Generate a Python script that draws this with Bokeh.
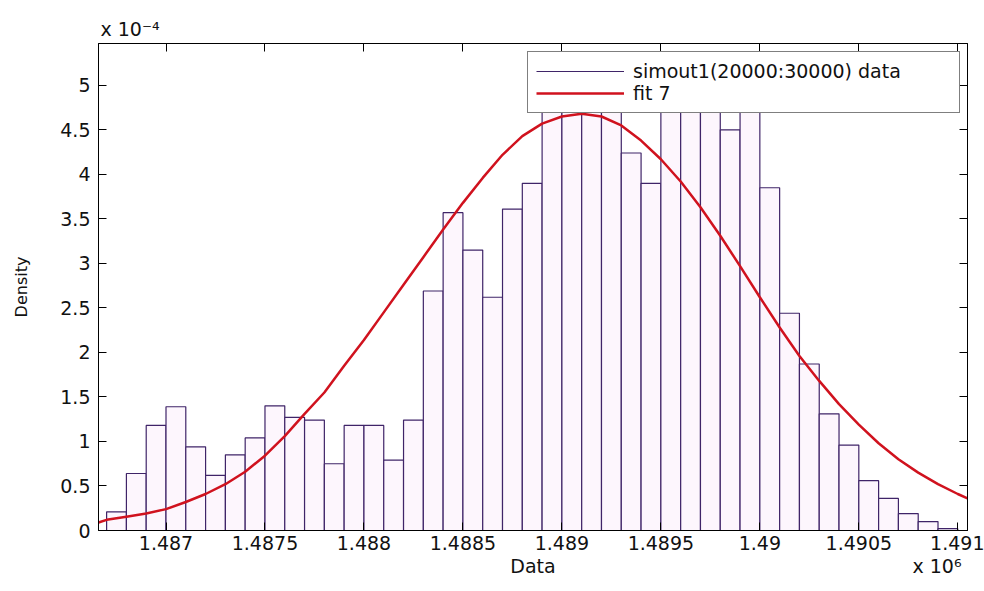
from bokeh.plotting import figure
from bokeh.models import (Range1d, LinearAxis, FixedTicker, Legend, LegendItem, Title,
                          CustomLabelingPolicy)
from bokeh.embed import file_html
from bokeh.resources import INLINE

# Histogram bin edges (x in units of 10^6) and densities (units of 10^-4)
BIN_EDGES = [1.4867, 1.4868, 1.4869, 1.4870, 1.4871, 1.4872, 1.4873, 1.4874, 1.4875,
             1.4876, 1.4877, 1.4878, 1.4879, 1.4880, 1.4881, 1.4882, 1.4883, 1.4884,
             1.4885, 1.4886, 1.4887, 1.4888, 1.4889, 1.4890, 1.4891, 1.4892, 1.4893,
             1.4894, 1.4895, 1.4896, 1.4897, 1.4898, 1.4899, 1.4900, 1.4901, 1.4902,
             1.4903, 1.4904, 1.4905, 1.4906, 1.4907, 1.4908, 1.4909, 1.4910]
DENSITY = [0.21, 0.64, 1.18, 1.39, 0.94, 0.62, 0.85, 1.04, 1.40, 1.27, 1.24, 0.75,
           1.18, 1.18, 0.79, 1.24, 2.69, 3.57, 3.15, 2.62, 3.61, 3.90, 4.95, 5.20,
           4.85, 5.25, 4.24, 3.90, 5.10, 4.90, 5.15, 4.50, 4.85, 3.85, 2.44, 1.87,
           1.31, 0.96, 0.56, 0.36, 0.19, 0.10, 0.02]

# Fitted density curve ("fit 7")
FIT_X = [1.486659, 1.4867, 1.4868, 1.4869, 1.4870, 1.4871, 1.4872, 1.4873, 1.4874,
         1.4875, 1.4876, 1.4877, 1.4878, 1.4879, 1.4880, 1.4881, 1.4882, 1.4883,
         1.4884, 1.4885, 1.4886, 1.4887, 1.4888, 1.4889, 1.4890, 1.4891, 1.4892,
         1.4893, 1.4894, 1.4895, 1.4896, 1.4897, 1.4898, 1.4899, 1.4900, 1.4901,
         1.4902, 1.4903, 1.4904, 1.4905, 1.4906, 1.4907, 1.4908, 1.4909, 1.4910,
         1.491049]
FIT_Y = [0.09, 0.12, 0.155, 0.19, 0.24, 0.32, 0.41, 0.52, 0.66, 0.84, 1.06, 1.31,
         1.55, 1.85, 2.14, 2.45, 2.76, 3.07, 3.38, 3.68, 3.96, 4.22, 4.43, 4.57,
         4.65, 4.68, 4.65, 4.55, 4.38, 4.17, 3.92, 3.63, 3.31, 2.97, 2.62, 2.28,
         1.96, 1.68, 1.42, 1.19, 0.98, 0.80, 0.65, 0.52, 0.41, 0.36]

X_MIN, X_MAX = 1.486659, 1.491049
Y_MIN, Y_MAX = 0, 5.47
X_TICKS = [1.487, 1.4875, 1.488, 1.4885, 1.489, 1.4895, 1.49, 1.4905, 1.491]
X_TICK_LABELS = ["1.487", "1.4875", "1.488", "1.4885", "1.489", "1.4895", "1.49", "1.4905", "1.491"]
Y_TICKS = [0, 0.5, 1, 1.5, 2, 2.5, 3, 3.5, 4, 4.5, 5]
Y_TICK_LABELS = ["0", "0.5", "1", "1.5", "2", "2.5", "3", "3.5", "4", "4.5", "5"]

X_LABEL = "Data"
Y_LABEL = "Density"
X_SCALE_TEXT = "x 10\u2076"
Y_SCALE_TEXT = "x 10\u207b\u2074"
X_SCALE_ANCHOR = 1.490895   # where the x multiplier sits, in data units

BAR_EDGE = "#3f2468"
BAR_FILL = "#fdf6fd"
FIT_COLOR = "#d0121e"
FONT = "DejaVu Sans"
TEXT_COLOR = "#111111"

p = figure(width=984, height=591, output_backend="svg", toolbar_location=None,
           x_range=Range1d(X_MIN, X_MAX), y_range=Range1d(Y_MIN, Y_MAX),
           min_border_left=98, min_border_right=17, min_border_top=43, min_border_bottom=61,
           background_fill_color="white", border_fill_color="white")
p.xgrid.visible = False
p.ygrid.visible = False
p.outline_line_color = "black"

bars = p.quad(left=BIN_EDGES[:-1], right=BIN_EDGES[1:], top=DENSITY, bottom=0,
              fill_color=BAR_FILL, line_color=BAR_EDGE, line_width=1.2)
fit = p.line(FIT_X, FIT_Y, line_color=FIT_COLOR, line_width=2.5)
# single-point line: draws nothing, only supplies the line key for the histogram entry
hist_key = p.line([BIN_EDGES[0]], [0], line_color=BAR_EDGE, line_width=1.2)

no_labels = CustomLabelingPolicy(code="return []")


def style_axis(ax, ticks, labels, show_labels):
    ax.ticker = FixedTicker(ticks=ticks, minor_ticks=[])
    ax.major_label_overrides = dict(zip(ticks, labels))
    ax.major_tick_in = 8
    ax.major_tick_out = 0
    ax.minor_tick_in = 0
    ax.minor_tick_out = 0
    ax.axis_line_color = "black"
    ax.major_tick_line_color = "black"
    ax.major_label_text_font = FONT
    ax.major_label_text_color = TEXT_COLOR
    if show_labels:
        ax.major_label_text_font_size = "19px"
    else:
        ax.major_label_text_font_size = "0px"
        ax.major_label_standoff = 0
        ax.major_label_policy = no_labels


xb = p.xaxis[0]
style_axis(xb, X_TICKS, X_TICK_LABELS, True)
xb.major_label_standoff = 5

yl = p.yaxis[0]
style_axis(yl, Y_TICKS, Y_TICK_LABELS, True)
yl.major_label_standoff = 8
yl.axis_label = Y_LABEL
yl.axis_label_text_font = FONT
yl.axis_label_text_font_size = "16px"
yl.axis_label_text_font_style = "normal"
yl.axis_label_text_color = TEXT_COLOR
yl.axis_label_standoff = 26

xt = LinearAxis()
style_axis(xt, X_TICKS, X_TICK_LABELS, False)
p.add_layout(xt, "above")
yr = LinearAxis()
style_axis(yr, Y_TICKS, Y_TICK_LABELS, False)
p.add_layout(yr, "right")

# Second row under the x axis: axis title in the middle, multiplier at the right
x_center = (X_MIN + X_MAX) / 2
xcap = LinearAxis(ticker=FixedTicker(ticks=[x_center, X_SCALE_ANCHOR], minor_ticks=[]),
                  major_label_overrides={x_center: X_LABEL, X_SCALE_ANCHOR: X_SCALE_TEXT},
                  major_tick_in=0, major_tick_out=0, minor_tick_in=0, minor_tick_out=0,
                  axis_line_color=None, major_tick_line_color=None,
                  major_label_standoff=2, major_label_text_font=FONT,
                  major_label_text_font_size="19px", major_label_text_color=TEXT_COLOR)
p.add_layout(xcap, "below")

# y multiplier above the top-left corner
p.add_layout(Title(text=Y_SCALE_TEXT, align="left", offset=2, standoff=8,
                   text_font=FONT, text_font_size="19px", text_font_style="normal",
                   text_color=TEXT_COLOR), "above")

legend = Legend(items=[LegendItem(label="simout1(20000:30000) data", renderers=[hist_key]),
                       LegendItem(label="fit 7", renderers=[fit])],
                location=(429, 417), padding=8, spacing=0, margin=0,
                glyph_width=88, glyph_height=22, label_height=22, label_width=318,
                label_standoff=9, label_text_font=FONT, label_text_font_size="19px",
                label_text_color=TEXT_COLOR, border_line_color="black", border_line_width=1,
                background_fill_color="white", background_fill_alpha=1.0)
p.add_layout(legend)

open("out.html", "w").write(file_html(p, INLINE))
